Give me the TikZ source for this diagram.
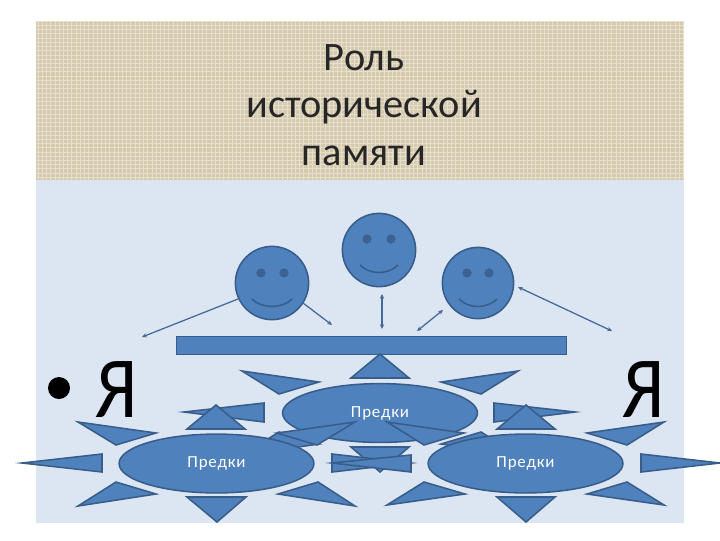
\documentclass[tikz,border=0pt]{standalone}
\usepackage{fontspec}
\setmainfont{Carlito}
\usetikzlibrary{shapes.geometric,arrows.meta,patterns}
\definecolor{burlap}{HTML}{D5CAAE}
\definecolor{burlaplight}{HTML}{E6DFCC}
\definecolor{slidebg}{HTML}{DCE6F2}
\definecolor{shapefill}{HTML}{4F81BD}
\definecolor{shapeline}{HTML}{385D8A}
\definecolor{arrowline}{HTML}{46689A}
\tikzset{
	ray/.style={fill=shapefill, draw=shapeline, line width=1.1pt},
	ancestors/.style={ellipse, fill=shapefill, draw=shapeline, line width=1.1pt, minimum width=4.87cm, minimum height=1.47cm, inner sep=0, text=white, font=\fontsize{12}{14}\selectfont\addfontfeature{LetterSpace=5}},
	face/.style={circle, fill=shapefill, draw=shapeline, line width=1.1pt, minimum size=1.83cm, inner sep=0},
	eye/.style={circle, fill=shapeline!85!shapefill, minimum size=0.23cm, inner sep=0},
	smile/.style={draw=shapeline, line width=1.1pt},
	link/.style={draw=arrowline, line width=0.9pt, {Stealth[length=1.2mm,width=1.1mm]}-{Stealth[length=1.2mm,width=1.1mm]}},
	bigletter/.style={font=\fontsize{62}{62}\selectfont, text=black, inner sep=0}
}
\begin{document}
\begin{tikzpicture}[x=0.025cm, y=-0.025cm]
		\useasboundingbox (0,0) rectangle (720,540);
		\fill[slidebg] (36,180) rectangle (684,523);
		\fill[burlap] (36,21) rectangle (684,180);
		\fill[pattern=grid, pattern color=burlaplight] (36,21) rectangle (684,180);

		\node[align=center, text=black!85, font=\fontsize{28.7}{33.7}\selectfont] (title) at (364,105) {Роль\\исторической\\памяти};

		\node[bigletter] (me) at (117,390) {\scalebox{0.87}[1]{Я}};
		\node[bigletter] (meright) at (644,390) {\scalebox{0.87}[1]{Я}};
		\node[circle, fill=black, minimum size=0.55cm, inner sep=0] (bullet) at (59,388) {};

		\node[fill=shapefill, draw=shapeline, line width=1.1pt, minimum width=9.75cm, minimum height=0.46cm, inner sep=0] (bar) at (371.5,345.5) {};

		\node[face] (faceleft) at (272,283) {};
		\node[eye] (eyea) at (261,273) {};
		\node[eye] (eyeb) at (284,273) {};
		\draw[smile] (252,299) .. controls (262,309) and (282,309) .. (292,299);

		\node[face] (facemid) at (379,250) {};
		\node[eye] (eyec) at (367,239) {};
		\node[eye] (eyed) at (391,239) {};
		\draw[smile] (360,265) .. controls (370,275) and (388,275) .. (398,265);

		\node[face, minimum size=1.78cm] (faceright) at (478,283) {};
		\node[eye] (eyee) at (467,273) {};
		\node[eye] (eyef) at (489,273) {};
		\draw[smile] (459,299) .. controls (469,309) and (487,309) .. (497,299);

		\coordinate (linkaa) at (142,337);
		\coordinate (linkab) at (238,299);
		\coordinate (linkba) at (303,303);
		\coordinate (linkbb) at (332,325);
		\coordinate (linkca) at (382,294);
		\coordinate (linkcb) at (382,329);
		\coordinate (linkda) at (443,310);
		\coordinate (linkdb) at (417,331);
		\coordinate (linkea) at (518,287);
		\coordinate (linkeb) at (612,331);
		\draw[link, {Stealth[length=1.2mm,width=1.1mm]}-] (linkaa) -- (linkab);
		\draw[link, -{Stealth[length=1.2mm,width=1.1mm]}] (linkba) -- (linkbb);
		\draw[link] (linkca) -- (linkcb);
		\draw[link] (linkda) -- (linkdb);
		\draw[link] (linkea) -- (linkeb);

		\node[ancestors] (ancmid) at (380,413) {Предки};
		\draw[ray] (380,354) -- (409,378) -- (351,378) -- cycle;
		\draw[ray] (351,447) -- (409,447) -- (380,472) -- cycle;
		\draw[ray] (184,412) -- (264,403) -- (264,422) -- cycle;
		\draw[ray] (575,412) -- (494,403) -- (494,422) -- cycle;
		\draw[ray] (242,371) -- (319,382) -- (279,394) -- cycle;
		\draw[ray] (518,371) -- (441,382) -- (481,394) -- cycle;
		\draw[ray] (242,455) -- (319,444) -- (279,432) -- cycle;
		\draw[ray] (518,455) -- (441,444) -- (481,432) -- cycle;

		\node[ancestors] (ancleft) at (216.5,463.5) {Предки};
		\draw[ray] (216,405) -- (245,429) -- (187,429) -- cycle;
		\draw[ray] (187,497) -- (246,497) -- (217,522) -- cycle;
		\draw[ray] (22,463) -- (102,454) -- (102,472) -- cycle;
		\draw[ray] (411,463) -- (332,454) -- (332,472) -- cycle;
		\draw[ray] (78,422) -- (156,433) -- (116,445) -- cycle;
		\draw[ray] (355,422) -- (277,433) -- (317,445) -- cycle;
		\draw[ray] (78,506) -- (156,494) -- (116,482) -- cycle;
		\draw[ray] (355,506) -- (278,494) -- (318,482) -- cycle;

		\node[ancestors] (ancright) at (525.5,463.5) {Предки};
		\draw[ray] (526,405) -- (555,429) -- (497,429) -- cycle;
		\draw[ray] (497,497) -- (555,497) -- (526,522) -- cycle;
		\draw[ray] (332,463) -- (411,455) -- (411,472) -- cycle;
		\draw[ray] (720,463) -- (641,454) -- (641,472) -- cycle;
		\draw[ray] (387,422) -- (464,433) -- (424,445) -- cycle;
		\draw[ray] (664,422) -- (587,433) -- (627,445) -- cycle;
		\draw[ray] (387,505) -- (465,494) -- (424,482) -- cycle;
		\draw[ray] (664,505) -- (587,494) -- (627,482) -- cycle;
	\end{tikzpicture}
\end{document}
